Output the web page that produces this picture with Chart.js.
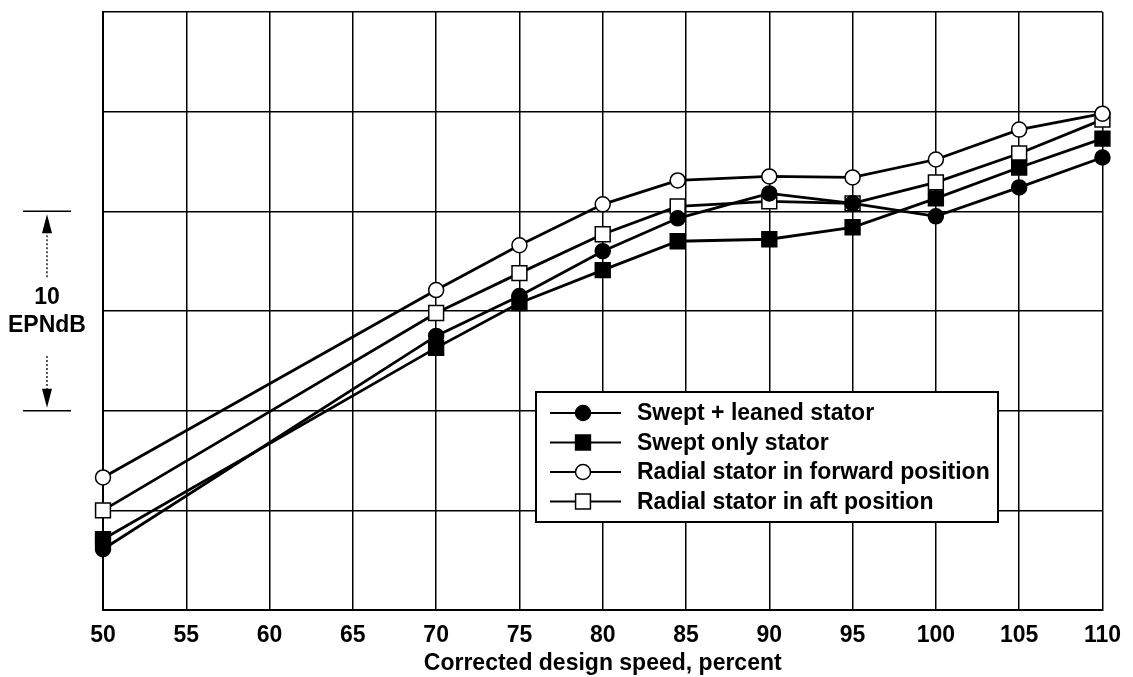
<!DOCTYPE html>
<html>
<head>
<meta charset="utf-8">
<script src="https://cdn.jsdelivr.net/npm/chart.js@4.4.1/dist/chart.umd.min.js"></script>
<style>
  html, body { margin: 0; padding: 0; background: #fff; }
  #wrap { width: 1133px; height: 677px; }
</style>
</head>
<body>
<div id="wrap"><canvas id="chart" width="1133" height="677"></canvas></div>
<script>
// --- DATA (y in EPNdB relative to chart bottom) ---
const SPEED = [50, 70, 75, 80, 84.5, 90, 95, 100, 105, 110];
const SWEPT_LEANED = [3.05, 13.75, 15.75, 18.0, 19.65, 20.9, 20.4, 19.75, 21.2, 22.7];
const SWEPT_ONLY = [3.55, 13.15, 15.4, 17.05, 18.5, 18.6, 19.2, 20.65, 22.2, 23.65];
const RADIAL_FWD = [6.65, 16.05, 18.3, 20.35, 21.55, 21.75, 21.7, 22.6, 24.1, 24.9];
const RADIAL_AFT = [5.0, 14.9, 16.9, 18.85, 20.25, 20.5, 20.4, 21.45, 22.9, 24.6];

const SERIES_LABELS = [
  "Swept + leaned stator",
  "Swept only stator",
  "Radial stator in forward position",
  "Radial stator in aft position",
];
const X_TITLE = "Corrected design speed, percent";
const BRACKET_RANGE = [10, 20]; // 10 EPNdB scale bar
const BRACKET_TEXT = ["10", "EPNdB"];

const FONT = '"Liberation Sans", Arial, Helvetica, sans-serif';
const INK = "#000";

// marker styles: filled / open, circle / square
const STYLES = [
  { pointStyle: "circle", radius: 7.5, fill: INK },
  { pointStyle: "rect", radius: 10.5, fill: INK },
  { pointStyle: "circle", radius: 7.5, fill: "#fff" },
  { pointStyle: "rect", radius: 10.5, fill: "#fff" },
];

function toPoints(values) {
  return values.map((v, i) => ({ x: SPEED[i], y: v }));
}

const SERIES = [SWEPT_LEANED, SWEPT_ONLY, RADIAL_FWD, RADIAL_AFT];

const datasets = SERIES.map((vals, i) => ({
  label: SERIES_LABELS[i],
  data: toPoints(vals),
  borderColor: INK,
  borderWidth: 2.8,
  pointStyle: STYLES[i].pointStyle,
  pointRadius: STYLES[i].radius,
  pointBackgroundColor: STYLES[i].fill,
  pointBorderColor: INK,
  pointBorderWidth: 1.5,
  tension: 0,
  clip: false,
}));

// --- scale bar "10 EPNdB" on the left ---
const bracketPlugin = {
  id: "bracket",
  afterDraw(chart) {
    const ctx = chart.ctx;
    const y = chart.scales.y;
    const yTop = y.getPixelForValue(BRACKET_RANGE[1]);
    const yBot = y.getPixelForValue(BRACKET_RANGE[0]);
    const mid = (yTop + yBot) / 2;
    const cx = 47;
    ctx.save();
    ctx.strokeStyle = INK;
    ctx.fillStyle = INK;
    ctx.lineWidth = 1.5;
    ctx.beginPath();
    ctx.moveTo(23, yTop); ctx.lineTo(71, yTop);
    ctx.moveTo(23, yBot); ctx.lineTo(71, yBot);
    ctx.stroke();

    ctx.font = "bold 23px " + FONT;
    ctx.textAlign = "center";
    ctx.textBaseline = "middle";
    ctx.fillText(BRACKET_TEXT[0], cx, mid - 13);
    ctx.fillText(BRACKET_TEXT[1], cx, mid + 15);

    // dotted shafts
    ctx.lineWidth = 1.3;
    ctx.setLineDash([2, 2]);
    ctx.beginPath();
    ctx.moveTo(cx, yTop + 20); ctx.lineTo(cx, mid - 33);
    ctx.moveTo(cx, mid + 45); ctx.lineTo(cx, yBot - 20);
    ctx.stroke();
    ctx.setLineDash([]);

    // arrow heads
    ctx.beginPath();
    ctx.moveTo(cx, yTop + 3);
    ctx.lineTo(cx - 5, yTop + 22);
    ctx.lineTo(cx + 5, yTop + 22);
    ctx.closePath();
    ctx.moveTo(cx, yBot - 3);
    ctx.lineTo(cx - 5, yBot - 22);
    ctx.lineTo(cx + 5, yBot - 22);
    ctx.closePath();
    ctx.fill();
    ctx.restore();
  },
};

// --- boxed legend inside the plot ---
const legendPlugin = {
  id: "boxLegend",
  afterDraw(chart) {
    const ctx = chart.ctx;
    const box = { x: 536, y: 392, w: 462, h: 130 };
    ctx.save();
    ctx.fillStyle = "#fff";
    ctx.fillRect(box.x, box.y, box.w, box.h);
    ctx.strokeStyle = INK;
    ctx.lineWidth = 2;
    ctx.strokeRect(box.x, box.y, box.w, box.h);

    ctx.font = "bold 23px " + FONT;
    ctx.textAlign = "left";
    ctx.textBaseline = "middle";
    SERIES_LABELS.forEach((lab, i) => {
      const ry = box.y + 21 + i * 29.5;
      ctx.strokeStyle = INK;
      ctx.lineWidth = 2;
      ctx.beginPath();
      ctx.moveTo(box.x + 14, ry);
      ctx.lineTo(box.x + 85, ry);
      ctx.stroke();
      ctx.fillStyle = STYLES[i].fill;
      ctx.lineWidth = 1.5;
      Chart.helpers.drawPoint(ctx, {
        pointStyle: STYLES[i].pointStyle,
        radius: STYLES[i].radius,
        borderWidth: 1.5,
        rotation: 0,
      }, box.x + 47, ry);
      ctx.fillStyle = INK;
      ctx.fillText(lab, box.x + 101, ry + 1);
    });
    ctx.restore();
  },
};

new Chart(document.getElementById("chart"), {
  type: "line",
  data: { datasets },
  plugins: [bracketPlugin, legendPlugin],
  options: {
    responsive: false,
    animation: false,
    layout: { padding: { left: 103, right: 28, top: 10, bottom: 0 } },
    plugins: { legend: { display: false }, tooltip: { enabled: false } },
    scales: {
      x: {
        type: "linear",
        min: 50,
        max: 110,
        ticks: {
          stepSize: 5,
          color: INK,
          padding: 12,
          font: { family: FONT, size: 23, weight: "bold" },
        },
        grid: { color: INK, lineWidth: 1.5, drawTicks: false },
        border: { color: INK, width: 2 },
        title: {
          display: true,
          text: X_TITLE,
          color: INK,
          font: { family: FONT, size: 23, weight: "bold" },
          padding: { top: 0, bottom: 0 },
        },
        afterFit(scale) { scale.height = 67; },
      },
      y: {
        min: 0,
        max: 30,
        ticks: { stepSize: 5, display: false },
        grid: { color: INK, lineWidth: 1.5, drawTicks: false },
        border: { color: INK, width: 2 },
        afterFit(scale) { scale.width = 0; },
      },
    },
  },
});
</script>
</body>
</html>
